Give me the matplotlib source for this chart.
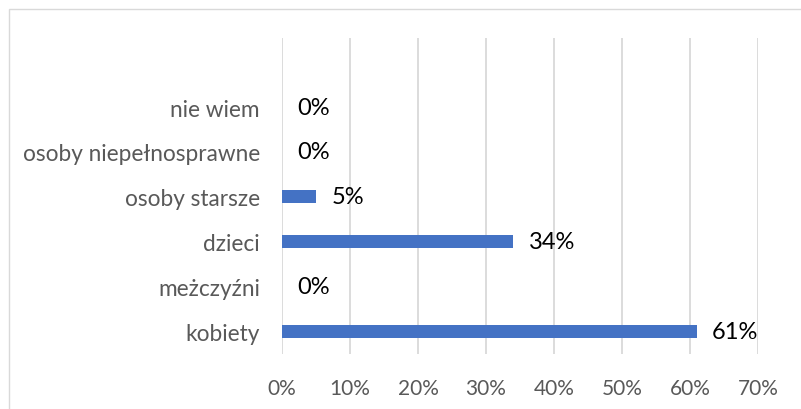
import matplotlib.pyplot as plt
from matplotlib.patches import Rectangle

categories = ['kobiety', 'meżczyźni', 'dzieci', 'osoby starsze', 'osoby niepełnosprawne', 'nie wiem']
values = [61, 0, 34, 5, 0, 0]
xticks = [0, 10, 20, 30, 40, 50, 60, 70]

plt.rcParams['font.family'] = ['Lato', 'DejaVu Sans']

W, H = 801, 410
fig = plt.figure(figsize=(W / 100, H / 100), dpi=100)
ax = fig.add_axes([282 / W, 1 - 355 / H, (758 - 282) / W, (355 - 39) / H])

# chart border
fig.patches.append(Rectangle((9 / W, -0.1), 1.1, 1 - 10 / H + 0.1, transform=fig.transFigure,
                             fill=False, edgecolor='#D9D9D9', linewidth=1))

pos = list(range(len(categories)))
ax.barh(pos, values, height=0.29, color='#4472C4', zorder=3)
for p, v in zip(pos, values):
    ax.annotate(f'{v}%', (v, p), xytext=(11, 0), textcoords='offset points',
                va='center', ha='left', fontsize=17, color='black')

ax.set_xlim(0, 70)
ax.set_ylim(-0.51, 6.54)
ax.set_xticks(xticks)
ax.set_xticklabels([f'{t}%' for t in xticks], fontsize=15, color='#595959')
ax.set_yticks(pos)
ax.set_yticklabels(categories, fontsize=16.3, color='#595959')
ax.tick_params(length=0)
ax.tick_params(axis='x', pad=17)
ax.tick_params(axis='y', pad=16)
ax.grid(axis='x', color='#D9D9D9', linewidth=1.3, zorder=0)
for s in ax.spines.values():
    s.set_visible(False)

fig.savefig('out.png', dpi=100)
